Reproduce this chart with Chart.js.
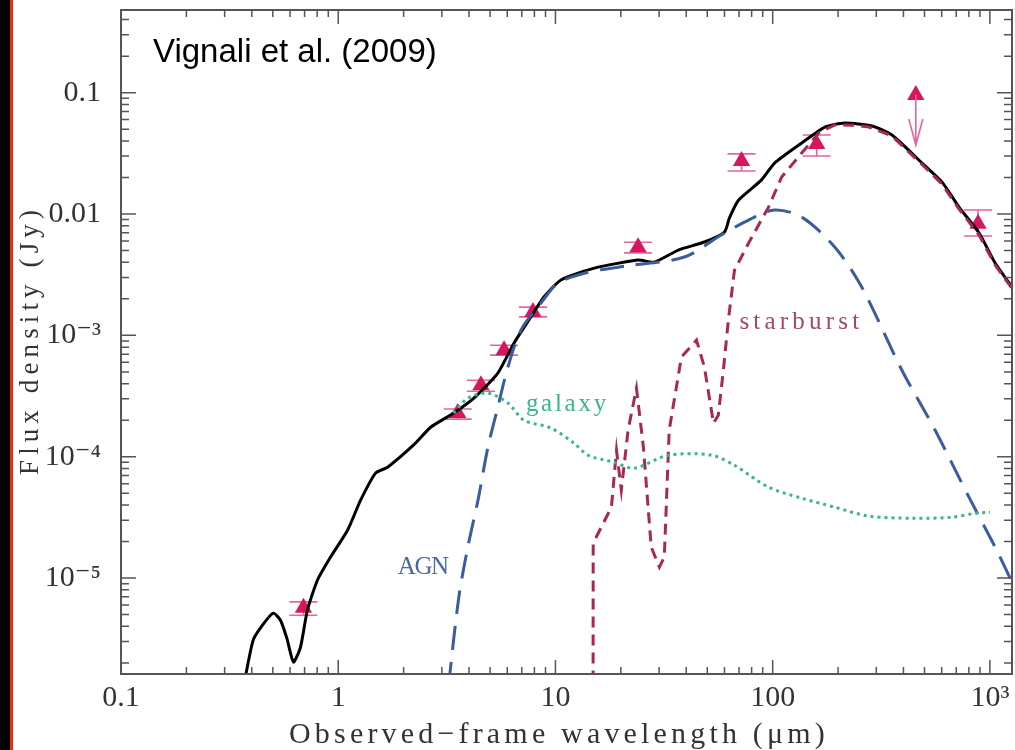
<!DOCTYPE html>
<html>
<head>
<meta charset="utf-8">
<script src="https://cdn.jsdelivr.net/npm/chart.js@4.4.0/dist/chart.umd.min.js"></script>
<style>
  body { margin: 0; background: #fff; }
  #wrap { position: relative; width: 1015px; height: 750px; }
  #strip { position: absolute; left: 0; top: 0; width: 10px; height: 750px; background: #000; border-right: 3px solid #f02a10; }
</style>
</head>
<body>
<div id="wrap"><canvas id="chart"></canvas><div id="strip"></div></div>
<script>
// total model (black)
const totalLam  = [0.37, 0.406, 0.448, 0.502, 0.542, 0.58, 0.622, 0.67, 0.721, 0.802, 0.922, 1.104, 1.268, 1.486, 1.688, 2.224, 2.665, 3.40, 4.21, 5.43, 6.44, 7.71, 8.85, 10.6, 15.1, 24.0, 28.5, 36.8, 48.5, 60.0, 63.2, 69.6, 88.9, 102, 136, 174, 215, 286, 354, 487, 601, 721, 892, 1057, 1294]
const totalFlux = [1.4e-6, 3.08e-6, 4.09e-6, 5.14e-6, 4.5e-6, 3.2e-6, 2.03e-6, 2.69e-6, 5.43e-6, 9.6e-6, 1.49e-5, 2.48e-5, 4.39e-5, 7.33e-5, 8.2e-5, 1.25e-4, 1.75e-4, 2.29e-4, 3.04e-4, 4.89e-4, 8.63e-4, 1.42e-3, 2.07e-3, 2.86e-3, 3.58e-3, 4.17e-3, 4.01e-3, 5.05e-3, 5.88e-3, 7.11e-3, 9.27e-3, 0.013, 0.0191, 0.0263, 0.0385, 0.0521, 0.0563, 0.0531, 0.0448, 0.0263, 0.0184, 0.0114, 6.97e-3, 3.95e-3, 2.36e-3]

// AGN component (blue long dash)
const agnLam  = [3.22, 3.59, 3.95, 4.40, 4.89, 5.43, 6.04, 6.93, 8.58, 10.3, 14, 21.6, 39.2, 58.0, 77.4, 102, 136, 193, 257, 393, 559, 801, 1057, 1294]
const agnFlux = [1.3e-6, 6.95e-6, 1.8e-5, 4.39e-5, 1.2e-4, 2.56e-4, 5.47e-4, 1.1e-3, 1.85e-3, 2.7e-3, 3.3e-3, 3.75e-3, 4.42e-3, 6.71e-3, 8.92e-3, 0.0108, 9.44e-3, 5.35e-3, 2.5e-3, 5.18e-4, 1.66e-4, 4.64e-5, 1.8e-5, 8.5e-6]

// galaxy component (green dotted)
const galLam  = [3.40, 3.95, 4.89, 6.04, 7.16, 9.55, 12.2, 14.1, 18.6, 23.1, 33.1, 52.3, 66.7, 95.7, 136, 193, 277, 438, 669, 855, 1002]
const galFlux = [2.29e-4, 3.04e-4, 3.34e-4, 2.77e-4, 2.0e-4, 1.72e-4, 1.29e-4, 1.03e-4, 9.0e-5, 8.05e-5, 1.03e-4, 1.03e-4, 8.5e-5, 5.61e-5, 4.55e-5, 3.84e-5, 3.24e-5, 3.11e-5, 3.17e-5, 3.42e-5, 3.49e-5]

// starburst component (red short dash)
const sbLam  = [14.9, 14.92, 18.1, 19.1, 20.1, 21.6, 23.6, 25.4, 27.6, 30.1, 31.7, 33.4, 38.0, 44.6, 48.5, 53.4, 56.2, 59.3, 62.5, 66.7, 77.4, 95.7, 110, 136, 163, 193, 240, 277, 354, 487, 601, 721, 892, 1057, 1294]
const sbFlux = [1e-6, 1.94e-5, 3.84e-5, 1.13e-4, 5.3e-5, 1.66e-4, 3.67e-4, 1.2e-4, 1.8e-5, 1.23e-5, 1.49e-5, 1.66e-4, 6.62e-4, 9.14e-4, 5.47e-4, 1.89e-4, 2.2e-4, 5.16e-4, 1.33e-3, 3.44e-3, 5.75e-3, 0.0114, 0.0202, 0.0318, 0.0465, 0.0542, 0.054, 0.0521, 0.044, 0.0256, 0.0177, 0.011, 6.7e-3, 3.8e-3, 2.3e-3]

// photometry with error bars
const ptLam  = [0.692, 3.55, 4.54, 5.80, 7.88, 24.0, 71.9, 159.5, 882]
const ptFlux = [5.7e-6, 2.29e-4, 3.88e-4, 7.55e-4, 1.56e-3, 5.33e-3, 0.0273, 0.0378, 8.3e-3]
const ptLo   = [4.94e-6, 2.04e-4, 3.46e-4, 6.88e-4, 1.42e-3, 4.78e-3, 0.0226, 0.0301, 6.59e-3]
const ptHi   = [6.37e-6, 2.47e-4, 4.27e-4, 8.3e-4, 1.71e-3, 5.86e-3, 0.0313, 0.0448, 0.0108]

// upper limit
const limLam  = [456]
const limFlux = [0.0957]
const limTo   = [0.037]

const xTickValues = [0.1, 1, 10, 100, 1000]
const xTickLabels = ['0.1', '1', '10', '100', '10³']
const yTickValues = [0.1, 0.01, 1e-3, 1e-4, 1e-5]
const yTickLabels = ['0.1', '0.01', '10⁻³', '10⁻⁴', '10⁻⁵']

const curveLabels = [
  {text: 'starburst', x: 70.3, y: 1.29e-3, color: '#a8466a', w: 124},
  {text: 'galaxy', x: 7.31, y: 2.71e-4, color: '#3bb58a', w: 83},
  {text: 'AGN', x: 1.88, y: 1.23e-5, color: '#4a68a6', w: 50}
]

const zip = (xs, ys) => xs.map((v, i) => ({x: v, y: ys[i]}))

const pink = '#d6175f'
const errPink = '#e8649a'
const serif = '"Liberation Serif", "DejaVu Serif", serif'

// typewriter-like text: spread glyphs to a given width
function spacedText(ctx, text, x, y, w) {
  ctx.letterSpacing = '0px'
  const natural = ctx.measureText(text).width
  ctx.letterSpacing = ((w - natural) / text.length) + 'px'
  ctx.fillText(text, x, y)
  ctx.letterSpacing = '0px'
}

const errorBars = {
  id: 'errorBars',
  beforeDatasetDraw(chart, args) {
    if (args.index !== 4) return
    const {ctx, scales: {x, y}} = chart
    ctx.save()
    ctx.strokeStyle = errPink
    ctx.lineWidth = 1.6
    ptLam.forEach((l, i) => {
      const px = x.getPixelForValue(l)
      const lo = y.getPixelForValue(ptLo[i])
      const hi = y.getPixelForValue(ptHi[i])
      ctx.beginPath()
      ctx.moveTo(px, lo); ctx.lineTo(px, hi)
      ctx.moveTo(px - 14, lo); ctx.lineTo(px + 14, lo)
      ctx.moveTo(px - 14, hi); ctx.lineTo(px + 14, hi)
      ctx.stroke()
    })
    limLam.forEach((l, i) => {
      const px = x.getPixelForValue(l)
      const top = y.getPixelForValue(limFlux[i])
      const tip = y.getPixelForValue(limTo[i])
      ctx.beginPath()
      ctx.moveTo(px, top); ctx.lineTo(px, tip)
      ctx.moveTo(px - 7, tip - 26); ctx.lineTo(px, tip); ctx.lineTo(px + 7, tip - 26)
      ctx.stroke()
    })
    ctx.restore()
  }
}

const frame = {
  id: 'frame',
  afterDraw(chart) {
    const {ctx, chartArea: a, scales: {x, y}} = chart
    ctx.save()
    ctx.strokeStyle = '#555'
    ctx.lineWidth = 1.5
    ctx.beginPath()
    for (let d = -1; d <= 3; d++) {
      for (let m = 1; m <= 9; m++) {
        const v = m * Math.pow(10, d)
        if (v < x.min || v > x.max) continue
        const px = x.getPixelForValue(v)
        const len = m === 1 ? 14 : 7
        ctx.moveTo(px, a.bottom); ctx.lineTo(px, a.bottom - len)
        ctx.moveTo(px, a.top); ctx.lineTo(px, a.top + len)
      }
    }
    for (let d = -6; d <= -1; d++) {
      for (let m = 1; m <= 9; m++) {
        const v = m * Math.pow(10, d)
        if (v < y.min || v > y.max) continue
        const py = y.getPixelForValue(v)
        const len = m === 1 ? 15 : 8
        ctx.moveTo(a.left, py); ctx.lineTo(a.left + len, py)
        ctx.moveTo(a.right, py); ctx.lineTo(a.right - len, py)
      }
    }
    ctx.stroke()
    ctx.lineWidth = 2
    ctx.strokeRect(a.left, a.top, a.right - a.left, a.bottom - a.top)

    ctx.fillStyle = '#000'
    ctx.font = '33px "Liberation Sans", Arial, sans-serif'
    ctx.textBaseline = 'alphabetic'
    ctx.fillText('Vignali et al. (2009)', a.left + 32, a.top + 52)

    // axis titles
    ctx.fillStyle = '#333'
    ctx.textBaseline = 'middle'
    ctx.font = '30px ' + serif
    spacedText(ctx, 'Observed−frame wavelength (μm)', 289, 735, 540)
    ctx.save()
    ctx.translate(31, 340)
    ctx.rotate(-Math.PI / 2)
    ctx.font = '27px ' + serif
    spacedText(ctx, 'Flux density (Jy)', -135, 0, 270)
    ctx.restore()

    ctx.font = '25px ' + serif
    curveLabels.forEach(c => {
      ctx.fillStyle = c.color
      spacedText(ctx, c.text, x.getPixelForValue(c.x), y.getPixelForValue(c.y), c.w)
    })
    ctx.restore()
  }
}

new Chart(document.getElementById('chart'), {
  type: 'line',
  data: {
    datasets: [
      {data: zip(galLam, galFlux), borderColor: '#3bb58a', borderWidth: 3, borderDash: [3, 4], pointRadius: 0, tension: 0.3},
      {data: zip(agnLam, agnFlux), borderColor: '#3a5d9c', borderWidth: 3, borderDash: [24, 12], pointRadius: 0, tension: 0.3},
      {data: zip(sbLam, sbFlux), borderColor: '#a82850', borderWidth: 3, borderDash: [11, 7], pointRadius: 0, tension: 0},
      {data: zip(totalLam, totalFlux), borderColor: '#000', borderWidth: 3, pointRadius: 0, tension: 0.2},
      {data: zip(ptLam, ptFlux), showLine: false, pointStyle: 'triangle', pointRadius: 10, backgroundColor: pink, borderWidth: 0},
      {data: zip(limLam, limFlux), showLine: false, pointStyle: 'triangle', pointRadius: 10, backgroundColor: pink, borderWidth: 0}
    ]
  },
  options: {
    responsive: true,
    maintainAspectRatio: false,
    animation: false,
    layout: {autoPadding: false, padding: {left: 0, right: 3, top: 10, bottom: 0}},
    plugins: {legend: {display: false}, tooltip: {enabled: false}},
    scales: {
      x: {
        type: 'logarithmic',
        min: 0.1,
        max: 1264,
        grid: {display: false, drawTicks: false},
        border: {display: false},
        afterFit: s => { s.height = 76; s.paddingLeft = 0; s.paddingRight = 0 },
        afterBuildTicks: s => { s.ticks = xTickValues.map(v => ({value: v})) },
        ticks: {
          autoSkip: false, maxRotation: 0, padding: 6, color: '#333',
          font: {family: serif, size: 30},
          callback: v => xTickLabels[xTickValues.indexOf(v)] || ''
        },
        title: {display: false}
      },
      y: {
        type: 'logarithmic',
        min: 1.62e-6,
        max: 0.48,
        grid: {display: false, drawTicks: false},
        border: {display: false},
        afterFit: s => { s.width = 121; s.paddingTop = 0; s.paddingBottom = 0 },
        afterBuildTicks: s => { s.ticks = yTickValues.map(v => ({value: v})) },
        ticks: {
          autoSkip: false, padding: 20, color: '#333',
          font: {family: serif, size: 30},
          callback: v => yTickLabels[yTickValues.indexOf(v)] || ''
        },
        title: {display: false}
      }
    }
  },
  plugins: [errorBars, frame]
})
</script>
</body>
</html>
